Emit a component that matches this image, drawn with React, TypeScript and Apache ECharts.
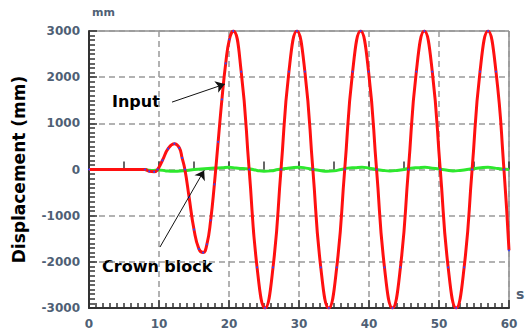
import React, { useEffect, useRef } from "react";
import * as echarts from "echarts";

const xTicks = [0, 10, 20, 30, 40, 50, 60];
const yTicks = [-3000, -2000, -1000, 0, 1000, 2000, 3000];

// Input (red) — [time s, displacement mm]
const inputT = [0, 8, 8.6, 9.3, 9.8, 10.5, 11.3, 12.2, 12.9, 13.3, 13.7, 14.3, 15.0, 15.7, 16.3, 16.84, 17.38, 17.91, 18.45, 18.99, 19.53, 20.06, 20.6,
  21.74, 22.88, 24.01, 25.15, 26.29, 27.43, 28.56, 29.7, 30.84, 31.98, 33.11, 34.25, 35.39, 36.53, 37.66, 38.8, 39.94, 41.08,
  42.21, 43.35, 44.49, 45.63, 46.76, 47.9, 49.04, 50.18, 51.31, 52.45, 53.59, 54.73, 55.86, 57.0, 58.14, 59.28, 60];
const inputV = [0, 0, -40, -50, 0, 200, 450, 560, 470, 250, 0, -600, -1300, -1720, -1800, -1620, -1100, -320, 600, 1520, 2300, 2820, 3000,
  2120, 0, -2120, -3000, -2120, 0, 2120, 3000, 2120, 0, -2120, -3000, -2120, 0, 2120, 3000, 2120, 0,
  -2120, -3000, -2120, 0, 2120, 3000, 2120, 0, -2120, -3000, -2120, 0, 2120, 3000, 2120, 0, -1750];

// Crown block (green)
const crownT = [8, 9, 10, 11, 12, 13, 14, 15, 16, 17, 18, 19, 20, 21, 22, 23, 24, 25, 26, 27, 28, 29, 30, 31, 32, 33, 34, 35, 36, 37, 38, 39, 40,
  41, 42, 43, 44, 45, 46, 47, 48, 49, 50, 51, 52, 53, 54, 55, 56, 57, 58, 59, 60];
const crownV = [0, -20, -10, -30, -40, -30, -20, 0, 10, 20, 30, 40, 50, 30, 20, 10, -20, -40, -30, 0, 20, 40, 50, 30, 0, -20, -40, -30, 0, 30, 40, 50, 30,
  0, -20, -30, -20, 0, 30, 40, 50, 30, 10, -10, -30, -20, 0, 20, 40, 50, 30, 10, 0];

// Annotation arrows [t, v]
const inputArrow = [[11.86, 1460], [19.4, 1850]];
const crownArrow = [[10.14, -1680], [16.45, -20]];

export default function App() {
  const ref = useRef<HTMLDivElement>(null);
  useEffect(() => {
    if (!ref.current) return;
    const chart = echarts.init(ref.current, null, { renderer: "svg" });
    const tickColor = "#4f5f75";
    const labelFont = { color: tickColor, fontSize: 12, fontWeight: "bold" as const, fontFamily: "DejaVu Sans" };
    chart.setOption({
      animation: false,
      backgroundColor: "#ffffff",
      grid: { left: 89, right: 21, top: 31, bottom: 25, show: true, borderColor: "#555", borderWidth: 1 },
      xAxis: [
        {
          type: "value", min: 0, max: 60, interval: 10,
          axisLine: { show: true, onZero: false, lineStyle: { color: "#333", width: 2 } },
          axisTick: { show: true, inside: true, length: 8, lineStyle: { color: "#333", width: 1.5 } },
          minorTick: { show: true, splitNumber: 10, length: 5, lineStyle: { color: "#333", width: 1.5 } },
          splitLine: { show: true, lineStyle: { color: "#999", type: [6, 4], width: 1.5 } },
          axisLabel: { ...labelFont, margin: 10, formatter: (v: number) => (xTicks.includes(v) ? String(v) : "") },
        },
        {
          type: "value", min: 0, max: 60, interval: 5, position: "bottom",
          axisLine: { show: false },
          axisTick: { show: true, inside: true, length: 8, lineStyle: { color: "#333", width: 1.5 } },
          splitLine: { show: false },
          axisLabel: { show: false },
        },
      ],
      yAxis: {
        type: "value", min: -3000, max: 3000, interval: 1000,
        name: "Displacement (mm)", nameLocation: "middle", nameGap: 62,
        nameTextStyle: { color: "#000", fontSize: 17, fontWeight: "bold", fontFamily: "DejaVu Sans" },
        axisLine: { show: true, onZero: false, lineStyle: { color: "#333", width: 2 } },
        axisTick: { show: true, inside: true, length: 8, lineStyle: { color: "#333", width: 1.5 } },
        minorTick: { show: true, splitNumber: 10, length: 6, lineStyle: { color: "#333", width: 1.5 } },
        splitLine: { show: true, lineStyle: { color: "#999", type: [6, 4], width: 1.5 } },
        axisLabel: { ...labelFont, margin: 9, formatter: (v: number) => (yTicks.includes(v) ? String(v) : "") },
      },
      series: [
        {
          name: "Crown block", type: "line", smooth: true, showSymbol: false,
          data: crownT.map((t, i) => [t, crownV[i]]),
          lineStyle: { color: "#2ee82e", width: 3 },
          z: 2,
        },
        {
          name: "Input", type: "line", smooth: true, showSymbol: true, symbol: "circle", symbolSize: 2,
          itemStyle: { color: "#3344ff" },
          data: inputT.map((t, i) => [t, inputV[i]]),
          lineStyle: { color: "#ff1010", width: 3 },
          z: 3,
          markLine: {
            silent: true, animation: false, symbolSize: 9,
            label: { show: false },
            lineStyle: { color: "#111", width: 1, type: "solid" },
            data: [
              [{ coord: inputArrow[0], symbol: "none" }, { coord: inputArrow[1], symbol: "arrow" }],
              [{ coord: crownArrow[0], symbol: "none" }, { coord: crownArrow[1], symbol: "arrow" }],
            ],
          },
        },
      ],
      graphic: [
        { type: "text", left: 92, top: 7, style: { text: "mm", fill: tickColor, font: "bold 11px 'DejaVu Sans'" } },
        { type: "text", left: 516, top: 287, style: { text: "s", fill: tickColor, font: "bold 14px 'DejaVu Sans'" } },
        { type: "text", left: 112, top: 93, style: { text: "Input", fill: "#000", font: "bold 16px 'DejaVu Sans'" } },
        { type: "text", left: 102, top: 258, style: { text: "Crown block", fill: "#000", font: "bold 16px 'DejaVu Sans'" } },
      ],
    });
    return () => chart.dispose();
  }, []);
  return <div ref={ref} style={{ position: "absolute", left: 0, top: 0, width: 530, height: 333 }} />;
}
